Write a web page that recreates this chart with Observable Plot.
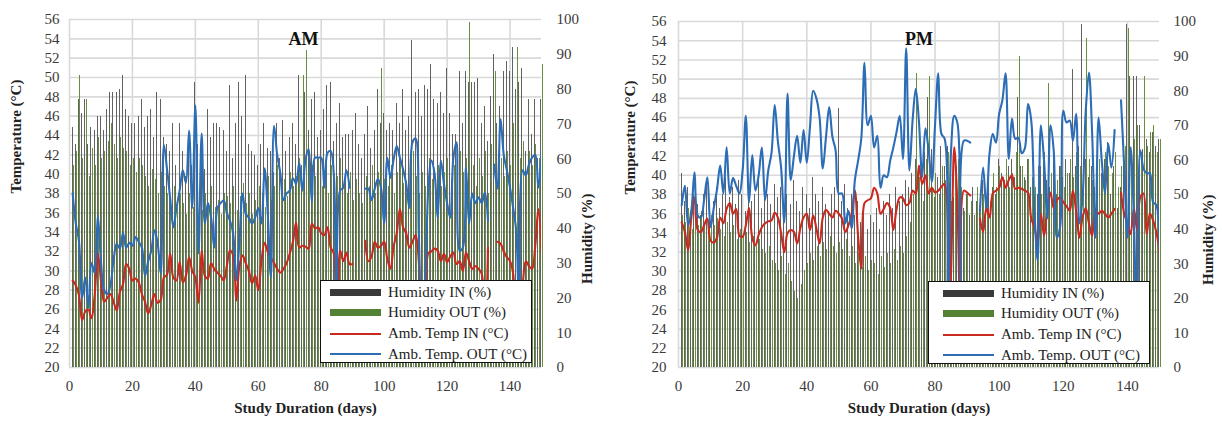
<!DOCTYPE html>
<html>
<head>
<meta charset="utf-8">
<script src="https://cdn.jsdelivr.net/npm/d3@7"></script>
<script src="https://cdn.jsdelivr.net/npm/@observablehq/plot@0.6"></script>
<style>
  html, body { margin: 0; padding: 0; background: #fff; }
  #wrap { position: relative; width: 1222px; height: 421px; overflow: hidden; font-family: 'Liberation Serif', serif; }
  .panel { position: absolute; top: 0; }
  .legend { position: absolute; background: #fff; border: 1.5px solid #111; box-sizing: border-box; }
  .row { position: absolute; height: 20px; display: flex; align-items: center; font-family: 'Liberation Serif', serif; font-size: 15px; color: #222; white-space: nowrap; }
  .sw { position: absolute; left: 0; width: 51px; }
</style>
</head>
<body>
<div id="wrap"></div>
<script>
// ---------- DATA ----------
const days = d3.range(1, 151);
const tempTicks = d3.range(20, 57, 2);
const humTicks = [0, 10, 20, 30, 40, 50, 60, 70, 80, 90, 100];
const dayTicks = [0, 20, 40, 60, 80, 100, 120, 140];
const seriesNames = ["Humidity IN (%)", "Humidity OUT (%)", "Amb. Temp IN (\u00B0C)", "Amb. Temp. OUT (\u00B0C)"];

// AM panel
const amHumIn = [
 69,64,77,73,77,64,69,68,72,72, 68,74,79,79,79,80,84,74,72,70,
 70,72,77,69,72,74,66,79,77,66, 64,62,70,58,70,62,55,66,58,82,
 64,60,57,74,66,70,70,69,68,62, 81,60,70,82,72,84,64,62,61,58,
 64,70,63,62,56,70,60,71,62,66, 70,64,84,58,79,68,77,79,66,68,
 74,81,82,65,70,76,66,67,67,68, 73,64,60,67,75,63,68,80,70,73,
 68,70,68,76,70,80,68,72,94,79, 80,72,81,80,87,77,76,79,73,86,
 73,67,67,85,70,85,82,82,82,83, 70,75,65,78,90,70,75,85,88,85,
 92,80,82,86,62,77,67,77,60,77];
const amHumOut = [
 58,62,84,60,77,55,63,58,66,60, 62,65,70,64,60,66,63,62,58,60,
 56,60,58,55,52,57,54,50,56,52, 50,48,52,46,50,47,44,50,46,52,
 48,45,50,47,52,46,48,44,50,49, 47,52,45,49,53,47,50,44,48,52,
 50,46,55,48,52,58,50,54,49,56, 52,55,60,84,91,62,58,55,60,52,
 56,50,58,48,55,60,52,50,56,48, 54,50,47,55,52,58,50,56,86,54,
 52,58,50,56,60,53,50,57,62,55, 50,56,52,60,54,50,58,52,56,60,
 54,58,50,62,56,60,99,58,52,60, 55,62,50,64,85,58,60,55,62,58,
 70,92,60,65,56,62,58,64,60,87];
const amTempIn = [
 29.0,28.5,27.5,24.9,25.8,26.0,25.1,27.5,31.8,29.0, 26.8,27.2,27.6,26.8,25.9,27.8,28.6,30.7,30.2,29.0,
 29.2,28.8,27.6,26.8,25.6,26.5,27.6,26.7,27.0,29.3, 29.6,31.8,29.3,29.0,30.9,28.8,29.5,31.4,30.0,29.3,
 26.7,32.1,29.5,29.2,30.8,30.2,29.8,29.5,29.0,30.5, 32.1,31.6,26.9,30.5,31.6,30.8,30.0,28.7,29.5,28.0,
 31.0,32.9,32.0,31.4,30.8,30.2,29.8,30.2,30.8,31.8, 33.0,35.0,32.4,32.6,32.5,32.3,34.9,34.4,34.5,33.9,
 33.7,34.5,32.4,31.8,23.0,32.1,31.0,31.9,30.7,30.7, null,null,null,33.1,31.0,31.5,33.0,32.4,32.6,33.0,
 31.2,30.2,32.5,33.9,36.4,34.5,33.9,32.4,33.0,33.7, 31.0,23.0,23.5,31.8,32.0,32.3,32.1,31.0,31.8,30.9,
 31.5,31.9,30.7,31.0,30.0,31.9,31.0,30.2,30.5,30.2, 29.7,23.0,32.4,null,null,33.0,32.8,32.0,31.4,31.0,
 29.7,23.0,26.0,28.5,31.0,30.5,30.2,32.5,36.4,31.8];
const amTempOut = [
 38.0,34.9,33.1,27.2,29.3,26.2,30.8,29.8,35.7,31.0, 28.0,27.6,28.5,31.1,32.8,32.3,33.9,32.4,32.9,32.6,
 33.5,33.0,32.4,29.5,31.0,32.1,34.2,32.9,29.7,43.0, 40.5,37.5,34.5,36.5,38.3,40.4,39.1,44.5,36.5,47.1,
 31.8,44.2,34.9,37.0,35.5,32.4,36.5,37.0,37.3,36.0, 35.2,33.9,29.0,33.0,38.0,35.9,35.5,34.9,35.5,36.5,
 34.9,40.6,36.0,29.3,45.0,42.0,40.1,37.3,38.0,38.3, 39.6,39.0,41.2,38.3,41.5,42.6,37.1,41.7,41.7,41.7,
 38.6,42.2,42.4,40.0,23.0,38.3,38.6,40.4,38.6,null, null,null,null,38.5,38.5,37.3,38.5,39.5,38.6,34.9,
 41.7,39.6,41.5,42.9,41.7,40.5,39.0,36.5,43.3,43.7, 33.9,23.0,28.0,38.3,41.4,40.1,35.5,41.4,39.0,37.0,
 35.5,41.7,43.3,32.1,32.4,40.7,34.9,38.0,37.0,37.6, 37.0,38.1,35.2,null,41.0,38.5,45.7,42.0,40.4,38.6,
 36.5,34.0,23.0,40.4,39.9,41.0,41.7,42.0,38.6,42.4];

// PM panel
const pmHumIn = [
 56,48,52,45,50,47,44,50,53,45, 48,52,46,50,55,49,52,47,54,50,
 45,52,48,50,56,46,52,50,47,53, 49,52,44,50,47,54,48,45,52,50,
 46,55,50,48,52,47,45,50,52,75, 48,53,46,50,44,48,42,46,40,44,
 42,46,40,48,44,50,46,52,48,50, 54,52,56,60,58,56,62,78,63,49,
 55,64,58,64,52,49,58,55,46,50, 44,52,48,46,54,50,55,52,50,60,
 56,54,58,60,55,78,58,55,60,52, 56,50,58,60,54,52,62,50,58,55,
 60,56,86,58,64,99,60,55,58,52, 62,56,60,65,50,58,46,52,65,99,
 84,84,84,70,63,66,62,68,64,66];
const pmHumOut = [
 44,42,46,40,43,41,45,42,40,44, 41,43,40,38,42,39,41,37,40,38,
 39,36,38,35,37,34,33,35,31,30, 28,32,27,30,25,22,20,24,28,30,
 33,31,35,32,36,34,38,35,33,36, 34,37,32,35,30,33,29,32,28,31,
 30,27,32,29,33,30,34,31,35,33, 38,42,50,85,55,48,60,84,52,56,
 50,58,54,62,48,55,60,52,45,50, 48,44,52,46,50,54,48,56,52,58,
 55,60,52,56,62,90,58,54,60,55, 52,58,50,62,82,56,60,54,58,52,
 56,60,55,62,58,56,95,60,54,58, 60,55,62,58,56,62,52,58,64,98,
 60,66,70,62,84,64,68,70,62,66];
const pmTempIn = [
 35.1,34.1,32.2,35.6,37.7,34.3,34.1,34.8,35.5,33.2, 33.0,33.5,35.6,35.0,36.5,37.1,36.0,36.5,33.7,33.6,
 34.8,36.6,33.5,32.7,33.8,34.6,35.0,35.2,35.3,36.1, 35.6,34.0,32.0,34.0,34.3,34.1,32.9,34.5,35.6,36.0,
 34.3,35.8,34.5,32.9,35.6,36.4,36.0,35.6,36.3,36.0, 35.5,34.1,34.8,36.0,38.4,33.7,30.3,37.1,37.4,37.6,
 38.7,38.1,36.0,36.5,37.1,36.6,34.3,36.5,37.7,37.6, 36.9,37.1,38.4,38.1,41.0,39.1,40.0,38.1,38.7,38.2,
 38.4,38.8,39.1,23.0,30.0,42.9,36.6,23.0,38.4,38.2, 37.9,null,null,35.5,34.1,36.6,35.6,38.1,38.4,38.7,
 39.8,38.7,39.5,40.0,38.6,38.7,38.6,38.4,38.2,35.5, 34.6,33.0,36.0,33.7,36.6,38.2,36.6,37.4,37.7,37.2,
 36.8,36.3,38.4,36.3,33.5,35.6,36.6,35.0,33.7,36.5, 36.0,36.3,36.0,35.6,36.0,36.5,null,38.2,36.0,35.0,
 33.9,36.6,34.3,37.7,38.1,33.9,36.0,35.3,34.1,32.2];
const pmTempOut = [
 36.9,38.9,34.8,36.3,40.3,35.8,35.6,37.5,39.8,34.6, 36.6,38.5,41.0,38.1,42.9,38.1,39.7,38.9,38.1,40.5,
 46.2,37.2,42.1,38.4,40.0,42.9,37.4,40.5,42.3,47.3, 43.5,40.8,35.1,48.5,39.5,42.0,44.1,41.3,44.7,41.3,
 45.0,48.8,48.0,46.0,40.7,44.0,47.1,44.0,42.6,38.1, 38.1,35.0,36.3,34.5,39.5,41.5,43.8,51.7,45.2,46.2,
 42.9,44.1,38.7,40.0,39.8,41.5,42.9,44.5,46.2,41.7, 53.2,40.5,45.7,49.0,45.5,39.8,44.9,42.6,39.3,45.2,
 50.6,44.3,43.8,23.0,42.6,46.2,45.4,23.0,43.6,43.6, 43.4,null,null,36.3,40.8,36.6,42.3,44.3,43.4,46.4,
 47.8,50.6,41.7,45.9,43.8,43.9,42.3,42.8,47.4,45.7, 36.3,31.1,45.2,41.5,35.5,45.2,42.6,33.5,34.6,46.7,
 45.5,45.7,43.6,46.4,35.0,37.7,46.7,50.7,44.3,33.5, 46.0,41.5,38.1,43.3,40.8,44.7,null,47.8,40.8,33.5,
 42.9,35.6,23.0,42.6,40.7,40.2,40.2,37.2,36.9,32.5];

// ---------- DRAW ----------
const FONT = "'Liberation Serif', 'Times New Roman', serif";
const C_IN = "#616161", C_OUT = "#66903f", C_RED = "#c92a1f", C_BLUE = "#2c6db6";
const H2T = h => 20 + h * 0.36;   // humidity axis (0-100) mapped onto temperature axis (20-56)

function panel(cfg) {
  const rows = days.map((d, i) => ({day: d, hin: cfg.hin[i], hout: cfg.hout[i], tin: cfg.tin[i], tout: cfg.tout[i]}));
  return Plot.plot({
    width: 611, height: 421,
    marginLeft: cfg.ml, marginRight: cfg.mr, marginTop: cfg.mt, marginBottom: 421 - 367,
    style: {fontFamily: FONT, fontSize: "15px", color: "#3a3a3a", background: "transparent", overflow: "visible"},
    x: {domain: [0, 150]},
    y: {domain: [20, 56]},
    marks: [
      Plot.gridY(tempTicks, {stroke: "#d9d9d9", strokeOpacity: 1, strokeWidth: 1.6}),
      Plot.gridX(dayTicks, {stroke: "#d9d9d9", strokeOpacity: 1, strokeWidth: 1.6}),
      Plot.ruleX(rows, {x: d => d.day - 0.2, y1: 20, y2: d => H2T(d.hin), stroke: C_IN, strokeWidth: 1, shapeRendering: "crispEdges"}),
      Plot.ruleX(rows, {x: d => d.day + 0.25, y1: 20, y2: d => H2T(d.hout), stroke: C_OUT, strokeWidth: 1, shapeRendering: "crispEdges"}),
      Plot.line(rows, {x: "day", y: "tin", stroke: C_RED, strokeWidth: 2.1, curve: "catmull-rom", clip: true}),
      Plot.line(rows, {x: "day", y: "tout", stroke: C_BLUE, strokeWidth: 2.1, curve: "catmull-rom", clip: true}),
      Plot.axisY(tempTicks, {anchor: "left", tickSize: 0, tickPadding: cfg.lp, label: null, fontFamily: FONT}),
      Plot.axisY(humTicks.map(H2T), {anchor: "right", tickSize: 0, tickPadding: cfg.rp, label: null, fontFamily: FONT,
        tickFormat: t => String(Math.round((t - 20) / 0.36))}),
      Plot.axisX(dayTicks, {anchor: "bottom", tickSize: 0, tickPadding: 13, label: null, fontFamily: FONT}),
      Plot.text([cfg.title], {frameAnchor: "top", dx: cfg.tdx, dy: cfg.tdy, fontWeight: "bold", fontSize: 18, fill: "#111", fontFamily: FONT}),
      Plot.text(["Temperature (\u00B0C)"], {frameAnchor: "left", dx: cfg.ydx, rotate: -90, fontWeight: "bold", fontSize: 15, fill: "#222", fontFamily: FONT}),
      Plot.text(["Humidity (%)"], {frameAnchor: "right", dx: cfg.hdx, rotate: -90, fontWeight: "bold", fontSize: 15, fill: "#222", fontFamily: FONT}),
      Plot.text(["Study Duration (days)"], {frameAnchor: "bottom", dy: 45, fontWeight: "bold", fontSize: 15, fill: "#222", fontFamily: FONT})
    ]
  });
}

function legend(left, top, width, swOff, txtOff) {
  const L = document.createElement("div");
  L.className = "legend";
  Object.assign(L.style, {left: left + "px", top: top + "px", width: width + "px", height: "83px"});
  const kinds = [["bar", "#3a3a3a"], ["bar", "#548235"], ["line", C_RED], ["line", C_BLUE]];
  seriesNames.forEach((name, i) => {
    const r = document.createElement("div");
    r.className = "row";
    r.style.left = swOff + "px";
    r.style.top = (1 + i * 20.8) + "px";
    const sw = document.createElement("div");
    sw.className = "sw";
    const h = kinds[i][0] === "bar" ? 7 : 2;
    Object.assign(sw.style, {height: h + "px", background: kinds[i][1], top: (10 - h / 2) + "px"});
    r.appendChild(sw);
    const t = document.createElement("span");
    t.textContent = name;
    t.style.marginLeft = (txtOff - swOff) + "px";
    r.appendChild(t);
    L.appendChild(r);
  });
  return L;
}

const wrap = document.getElementById("wrap");
const am = panel({hin: amHumIn, hout: amHumOut, tin: amTempIn, tout: amTempOut, title: "AM",
  ml: 69, mr: 70, mt: 19, lp: 10, rp: 15, tdx: -2, tdy: 13, ydx: -53, hdx: 46});
am.classList.add("panel"); am.style.left = "0px";
wrap.appendChild(am);
const pm = panel({hin: pmHumIn, hout: pmHumOut, tin: pmTempIn, tout: pmTempOut, title: "PM",
  ml: 67, mr: 63, mt: 21, lp: 12, rp: 14, tdx: 0, tdy: 11, ydx: -48, hdx: 49});
pm.classList.add("panel"); pm.style.left = "611px";
wrap.appendChild(pm);

wrap.appendChild(legend(320, 280, 212, 9, 67));
wrap.appendChild(legend(928, 281, 222, 14, 72));
</script>
</body>
</html>
